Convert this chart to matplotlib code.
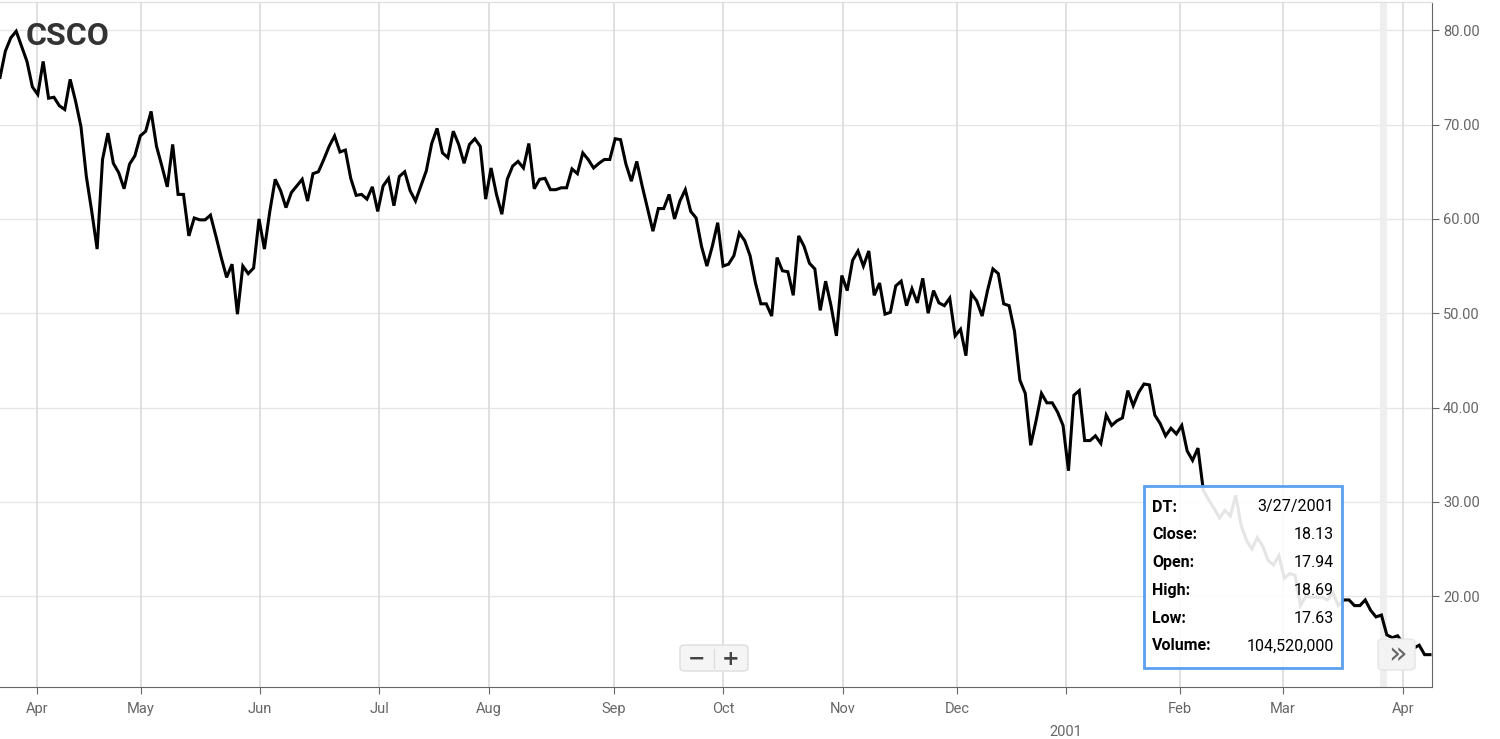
import numpy as np
import matplotlib
matplotlib.use("Agg")
import matplotlib.pyplot as plt
from matplotlib.patches import FancyBboxPatch, Rectangle

prices_a = [75, 77.8, 79.2, 79.9, 78.3, 76.7, 74, 73.2, 76.7, 72.8, 72.9, 72, 71.6, 74.8, 72.5,
            69.8, 64.5, 60.8, 56.8, 66.3, 69.1, 65.9, 64.9, 63.2, 65.8, 66.7, 68.8, 69.3, 71.4,
            67.7, 65.6, 63.4, 67.9, 62.6, 62.6, 58.2, 60.1, 59.9, 59.9, 60.4, 58.2, 55.9, 53.8,
            55.2, 49.9, 55, 54.2, 54.8, 60, 56.8, 60.8, 64.2, 63, 61.2, 62.8, 63.5, 64.2, 61.9,
            64.8, 65, 66.3, 67.7, 68.8, 67.1, 67.3, 64.3, 62.5, 62.6, 62.1, 63.4, 60.8]
prices_b = [63.5, 64.3, 61.4, 64.5, 65, 63, 61.9, 63.5, 65.1, 68, 69.6, 67, 66.5, 69.3, 67.9,
            65.9, 67.9, 68.5, 67.7, 62.1, 65.4, 62.6, 60.5, 64.2, 65.6, 66.1, 65.4, 68, 63.2,
            64.2, 64.3, 63.1, 63.1, 63.3, 63.3, 65.3, 64.8, 67, 66.3, 65.4, 65.9, 66.3, 66.3,
            68.5, 68.4, 65.8, 64, 66.1, 63.5, 61.1, 58.7, 61.1, 61.1, 62.6, 60, 61.9, 63.1,
            60.8, 60.1, 57.1, 55, 57.1, 59.6, 55, 55.2, 56.1]
prices_c = [58.5, 57.7, 56.1, 53.2, 51, 51, 49.7, 55.9, 54.5, 54.4, 51.9, 58.2, 57.1, 55.3,
            54.7, 50.3, 53.4, 50.8, 47.6, 54, 52.4, 55.6, 56.6, 55, 56.6, 51.9, 53.2, 49.9,
            50.1, 52.9, 53.4, 50.8, 52.6, 51.1, 53.7, 50, 52.4, 51.1, 50.8, 51.6, 47.6, 48.3,
            45.5, 52.1, 51.3, 49.7, 52.4, 54.7, 54.2, 51, 50.8, 48.1, 42.9, 41.5, 36, 38.6,
            41.5, 40.5, 40.5, 39.5, 38.1, 33.3, 41.3, 41.8, 36.5, 36.5, 37, 36.2, 39.2, 38.1, 38.6]
prices_d = [38.9, 41.8, 40.2, 41.6, 42.5, 42.4, 39.2, 38.3, 37, 37.8, 37.2, 38.1, 35.4, 34.4,
            35.7, 31.2, 30.2, 29.3, 28.3, 29.1, 28.5, 30.7, 27.5, 25.9, 25, 26.2, 25.3, 23.8,
            23.3, 24.3, 21.9, 22.4, 22.2, 19, 20, 19.9, 19.9, 19.9, 19.6, 20.4, 19, 19.6, 19.6,
            19, 19, 19.6, 18.5, 17.8, 18, 15.9, 15.6, 15.8, 15, 14.3, 14.5, 14.8, 13.8, 13.8]
close = np.array(prices_a + prices_b + prices_c + prices_d)

month_labels = ["Apr", "May", "Jun", "Jul", "Aug", "Sep", "Oct", "Nov", "Dec", "", "Feb", "Mar", "Apr"]
month_px = [37, 141, 260, 379, 489, 614, 723, 843, 957, 1066, 1180, 1283, 1403]
yticks = [20, 30, 40, 50, 60, 70, 80]

n = len(close)
scale = (n - 1) / 1430.0
x = np.arange(n)
tick_pos = [p * scale for p in month_px]

W, H = 1500, 739
fig = plt.figure(figsize=(15, 7.39), dpi=100)
ax = fig.add_axes([0, 1 - 687 / H, 1432 / W, 687 / H - 2 / H])
ax.set_xlim(0, 1432 * scale)
ax.set_ylim(10.37, 83.0)

grid_c = "#e6e6e6"
for t in yticks:
    ax.axhline(t, color=grid_c, lw=1, zorder=0)
for t in tick_pos:
    ax.axvline(t, color="#dddddd", lw=1.3, zorder=0)
# crosshair band
ax.axvspan(1380 * scale, 1387 * scale, color="#eeeeee", zorder=0.5, lw=0)

ax.plot(x, close, color="black", lw=2.2, zorder=2, solid_joinstyle="miter")

for s in ["top", "left"]:
    ax.spines[s].set_visible(False)
ax.spines["right"].set_color("#666666")
ax.spines["bottom"].set_color("#666666")
fig.add_artist(plt.Line2D([0, 1432 / W], [1 - 1.5 / H, 1 - 1.5 / H], color="#e0e0e0", lw=1))

ax.yaxis.tick_right()
ax.set_yticks(yticks)
ax.set_yticklabels([f"{v:.2f}" for v in yticks], fontsize=10.5, color="#666666", family="Roboto")
ax.tick_params(axis="y", length=5, color="#666666", pad=3)
ax.set_xticks(tick_pos)
ax.set_xticklabels(month_labels, fontsize=10.5, color="#666666", family="Roboto")
ax.tick_params(axis="x", length=5, color="#666666", pad=6)
ax.text(1066 * scale, -0.055, "2001", transform=ax.get_xaxis_transform(), ha="center",
        va="top", fontsize=10.5, color="#666666", family="Roboto")

fig.text(26 / W, 1 - 36 / H, "CSCO", fontsize=23, fontweight="bold", color="#333333",
         family="Roboto", va="center", ha="left")

# zoom buttons
fig.patches.append(FancyBboxPatch((680 / W, 1 - 671 / H), 68 / W, 26 / H,
                                  boxstyle="round,pad=0,rounding_size=0.004",
                                  transform=fig.transFigure, fc="#f5f5f5", ec="#dddddd", lw=1, zorder=5))
fig.add_artist(plt.Line2D([714 / W, 714 / W], [1 - 668 / H, 1 - 649 / H], color="#dddddd", lw=1, zorder=6))
fig.text(697 / W, 1 - 659 / H, "−", fontsize=15, fontweight="bold", color="#444444",
         ha="center", va="center", zorder=7, family="DejaVu Sans")
fig.text(731 / W, 1 - 659 / H, "+", fontsize=15, fontweight="bold", color="#444444",
         ha="center", va="center", zorder=7, family="DejaVu Sans")
fig.patches.append(FancyBboxPatch((1378 / W, 1 - 670 / H), 37 / W, 31 / H,
                                  boxstyle="round,pad=0,rounding_size=0.004",
                                  transform=fig.transFigure, fc="#f3f3f3", ec="#e6e6e6", lw=1, zorder=5))
fig.text(1397 / W, 1 - 655 / H, "»", fontsize=22, color="#666666",
         ha="center", va="center", zorder=7, family="DejaVu Sans")

# tooltip
fig.patches.append(Rectangle((1144 / W, 1 - 668 / H), 198 / W, 182 / H, transform=fig.transFigure,
                             fc=(1, 1, 1, 0.9), ec="#5aa0f0", lw=2, zorder=8))
rows = [("DT:", "3/27/2001"), ("Close:", "18.13"), ("Open:", "17.94"),
        ("High:", "18.69"), ("Low:", "17.63"), ("Volume:", "104,520,000")]
for i, (k, v) in enumerate(rows):
    yy = 1 - (507 + i * 27.8) / H
    fig.text(1152 / W, yy, k, fontsize=11.5, fontweight="bold", color="black",
             family="Roboto", va="center", zorder=9)
    fig.text(1334 / W, yy, v, fontsize=11.5, color="black", family="Roboto",
             va="center", ha="right", zorder=9)

fig.savefig("out.png", dpi=100)
